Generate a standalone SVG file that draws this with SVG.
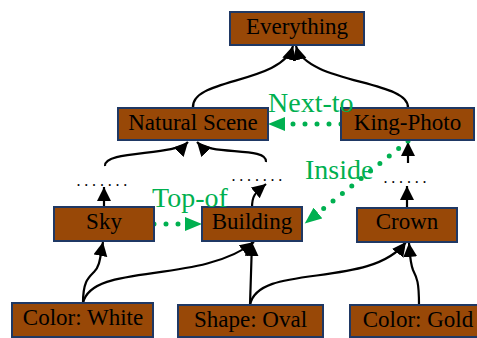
<svg xmlns="http://www.w3.org/2000/svg" width="477" height="338" viewBox="0 0 477 338">
<style>
.box{fill:#984807;stroke:#1f3864;stroke-width:2}
.lbl{font-family:"Liberation Serif","Times New Roman",serif;font-size:23px;fill:#000;text-anchor:middle}
.rel{font-family:"Liberation Serif","Times New Roman",serif;font-size:28px;fill:#00b050}
.dots{font-family:"Liberation Serif","Times New Roman",serif;font-size:16px;fill:#000;letter-spacing:3.8px}
.edge{fill:none;stroke:#000;stroke-width:2.2}
.gedge{fill:none;stroke:#00b050;stroke-width:5;stroke-linecap:round;stroke-dasharray:0 12}
</style>
<defs>
<marker id="ah" markerUnits="userSpaceOnUse" markerWidth="16" markerHeight="15" refX="14" refY="7" orient="auto">
<path d="M0,0 L14,7 L0,14 z" fill="#000"/>
</marker>
<marker id="gh" markerUnits="userSpaceOnUse" markerWidth="18" markerHeight="14" refX="0" refY="7" orient="auto">
<path d="M0,0 L17,7 L0,14 z" fill="#00b050"/>
</marker>
</defs>

<g id="connectors">
<path class="edge" d="M193,108 C190,78 282,84 293,46" marker-end="url(#ah)"/>
<path class="edge" d="M408,108 C410,80 306,84 296,46" marker-end="url(#ah)"/>
<path class="edge" d="M105,166 C103,150 175,156 188,142" marker-end="url(#ah)"/>
<path class="edge" d="M266,162 C268,146 210,156 197,142" marker-end="url(#ah)"/>
<path class="edge" d="M104,207 L104,187" marker-end="url(#ah)"/>
<path class="edge" d="M252,208 C252,196 254,194 266,184" marker-end="url(#ah)"/>
<path class="edge" d="M407,208 L407,186" marker-end="url(#ah)"/>
<path class="edge" d="M408,163 L408,142" marker-end="url(#ah)"/>
<path class="edge" d="M83,303 C83,282 88,278 94,272 C100,266 100,258 103,242" marker-end="url(#ah)"/>
<path class="edge" d="M83,303 C92,262 200,285 254,242" marker-end="url(#ah)"/>
<path class="edge" d="M250,305 L252,242" marker-end="url(#ah)"/>
<path class="edge" d="M250,305 C258,262 370,290 406,242" marker-end="url(#ah)"/>
<path class="edge" d="M419,305 C419,282 417,278 413,270 C410,262 410,255 409,243" marker-end="url(#ah)"/>
<path class="gedge" d="M341,124 L285,124" marker-end="url(#gh)"/>
<path class="gedge" d="M154,224 L185,224" marker-end="url(#gh)"/>
<path class="gedge" d="M408,141 L318,213" marker-end="url(#gh)"/>
</g>

<g id="n-everything"><rect class="box" x="230" y="12" width="134" height="33"/><text class="lbl" x="297" y="33.5">Everything</text></g>
<g id="n-natural-scene"><rect class="box" x="118" y="108" width="150" height="32"/><text class="lbl" x="193" y="130">Natural Scene</text></g>
<g id="n-king-photo"><rect class="box" x="341" y="108" width="133" height="32"/><text class="lbl" x="407.5" y="130">King-Photo</text></g>
<g id="n-sky"><rect class="box" x="54" y="207" width="100" height="34"/><text class="lbl" x="104" y="229">Sky</text></g>
<g id="n-building"><rect class="box" x="202" y="207" width="100" height="34"/><text class="lbl" x="252" y="229">Building</text></g>
<g id="n-crown"><rect class="box" x="357" y="208" width="100" height="34"/><text class="lbl" x="407" y="229">Crown</text></g>
<g id="n-color-white"><rect class="box" x="12" y="303" width="141" height="34"/><text class="lbl" x="83" y="325">Color: White</text></g>
<g id="n-shape-oval"><rect class="box" x="178" y="305" width="145" height="32"/><text class="lbl" x="250.5" y="327">Shape: Oval</text></g>
<g id="n-color-gold"><rect class="box" x="350" y="305" width="136" height="32"/><text class="lbl" x="418" y="327">Color: Gold</text></g>

<g id="labels">
<text class="rel" x="268" y="112">Next-to</text>
<text class="rel" x="152" y="207">Top-of</text>
<text class="rel" x="305" y="179">Inside</text>
<text class="dots" x="76.5" y="186">.......</text>
<text class="dots" x="231.5" y="181">.......</text>
<text class="dots" x="383.5" y="183">......</text>
</g>
</svg>
